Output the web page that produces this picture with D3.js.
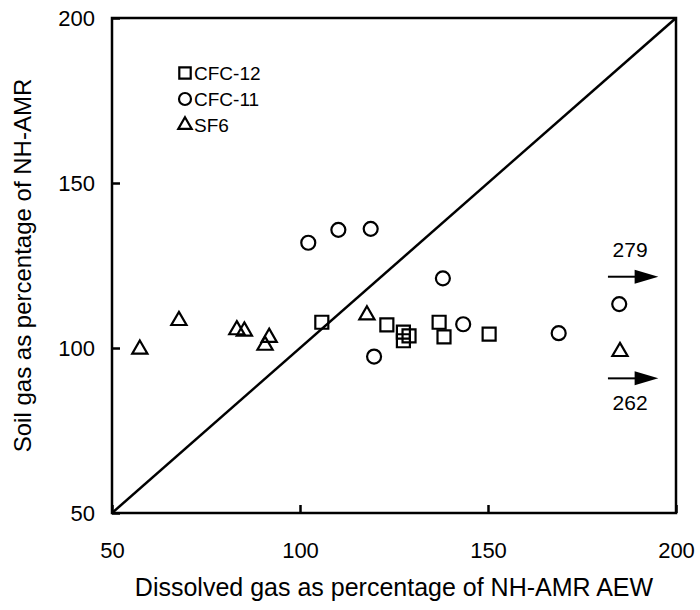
<!DOCTYPE html>
<html>
<head>
<meta charset="utf-8">
<script src="https://cdn.jsdelivr.net/npm/d3@7"></script>
<style>
  body { margin: 0; background: #fff; }
  text { font-family: "Liberation Sans", Arial, sans-serif; fill: #000; }
</style>
</head>
<body>
<svg width="700" height="610"></svg>
<script>
const w = 700;
const h = 610;

// values
var cfc12X = [105.8, 123.1, 127.5, 129.0, 127.5, 137.0, 138.3, 150.3];
var cfc12Y = [107.8, 107.0, 104.8, 103.7, 102.2, 107.8, 103.4, 104.2];
var cfc11X = [102.2, 110.2, 118.8, 138.0, 119.7, 143.4, 168.8, 184.9];
var cfc11Y = [131.9, 135.8, 136.1, 121.1, 97.4, 107.2, 104.5, 113.3];
var sf6X = [57.4, 67.8, 83.2, 85.2, 91.8, 90.7, 117.8, 185.1];
var sf6Y = [99.6, 108.3, 105.5, 105.1, 103.2, 100.8, 110.0, 98.9];
// points beyond the x range, drawn as arrows
var offX = [279, 262];
var offY = [121.6, 90.8];
var ticks = [50, 100, 150, 200];
var seriesNames = ['CFC-12', 'CFC-11', 'SF6'];

var svg = d3.select('svg');
var margin = {left: 112, right: 24, top: 18, bottom: 97};

var x = d3.scaleLinear().domain([50, 200]).range([margin.left, w - margin.right]);
var y = d3.scaleLinear().domain([50, 200]).range([h - margin.bottom, margin.top]);

var shapes = [d3.symbolSquare, d3.symbolCircle, d3.symbolTriangle];
var sizes = [169, 154, 100];
var legendSizes = [130, 113, 78];

function render() {
  // 1:1 line
  svg.append('line')
    .attr('x1', x(50)).attr('y1', y(50))
    .attr('x2', x(200)).attr('y2', y(200))
    .attr('stroke', '#000').attr('stroke-width', 2.5);

  // inward ticks
  var xAxis = d3.axisBottom(x).tickValues(ticks).tickSizeInner(-8).tickSizeOuter(0).tickPadding(29);
  var yAxis = d3.axisLeft(y).tickValues(ticks).tickSizeInner(-8).tickSizeOuter(0).tickPadding(17);

  var gx = svg.append('g').attr('transform', 'translate(0,' + y(50) + ')').call(xAxis);
  var gy = svg.append('g').attr('transform', 'translate(' + x(50) + ',0)').call(yAxis);
  [gx, gy].forEach(g => {
    g.select('.domain').remove();
    g.selectAll('line').attr('stroke', '#000').attr('stroke-width', 2.5);
    g.selectAll('text').style('font-family', '"Liberation Sans", Arial, sans-serif')
      .attr('font-size', 22).attr('fill', '#000');
  });
  gx.selectAll('text').attr('dy', '0.71em');

  // frame
  svg.append('rect')
    .attr('x', x(50)).attr('y', y(200))
    .attr('width', x(200) - x(50)).attr('height', y(50) - y(200))
    .attr('fill', 'none').attr('stroke', '#000').attr('stroke-width', 2.5);

  var series = [
    d3.zip(cfc12X, cfc12Y),
    d3.zip(cfc11X, cfc11Y),
    d3.zip(sf6X, sf6Y)
  ];

  series.forEach((pts, i) => {
    var sym = d3.symbol().type(shapes[i]).size(sizes[i]);
    svg.append('g').selectAll('path').data(pts).enter()
      .append('path')
      .attr('d', sym)
      .attr('transform', d => 'translate(' + x(d[0]) + ',' + y(d[1]) + ')')
      .attr('fill', 'none')
      .attr('stroke', '#000')
      .attr('stroke-width', 2.2);
  });

  // off-scale arrows
  var arrows = d3.zip(offX, offY);
  var ag = svg.append('g').selectAll('g').data(arrows).enter().append('g');
  ag.append('line')
    .attr('x1', x(181.9)).attr('x2', x(189.5))
    .attr('y1', d => y(d[1])).attr('y2', d => y(d[1]))
    .attr('stroke', '#000').attr('stroke-width', 2);
  ag.append('path')
    .attr('d', d => {
      var x0 = x(189), x1 = x(195.3), yy = y(d[1]);
      return 'M' + x0 + ',' + (yy - 7) + 'L' + x1 + ',' + yy + 'L' + x0 + ',' + (yy + 7) + 'Z';
    })
    .attr('fill', '#000');
  ag.append('text')
    .attr('x', x(187.8))
    .attr('y', (d, i) => y(d[1]) + (i === 0 ? -20 : 32))
    .attr('text-anchor', 'middle')
    .attr('font-size', 21)
    .text(d => d[0]);

  // legend
  var lg = svg.append('g').selectAll('g').data(seriesNames).enter().append('g')
    .attr('transform', (d, i) => 'translate(185,' + (73 + i * 26) + ')');
  lg.append('path')
    .attr('d', (d, i) => d3.symbol().type(shapes[i]).size(legendSizes[i])())
    .attr('fill', 'none').attr('stroke', '#000').attr('stroke-width', 2.2);
  lg.append('text')
    .attr('x', 9).attr('y', 7)
    .attr('font-size', 19)
    .text(d => d);

  // axis titles
  svg.append('text')
    .attr('x', (x(50) + x(200)) / 2).attr('y', 596)
    .attr('text-anchor', 'middle')
    .attr('font-size', 25)
    .text('Dissolved gas as percentage of NH-AMR AEW');
  svg.append('text')
    .attr('transform', 'translate(31,' + (y(50) + y(200)) / 2 + ') rotate(-90)')
    .attr('text-anchor', 'middle')
    .attr('font-size', 24)
    .text('Soil gas as percentage of NH-AMR');
}
render();
</script>
</body>
</html>
